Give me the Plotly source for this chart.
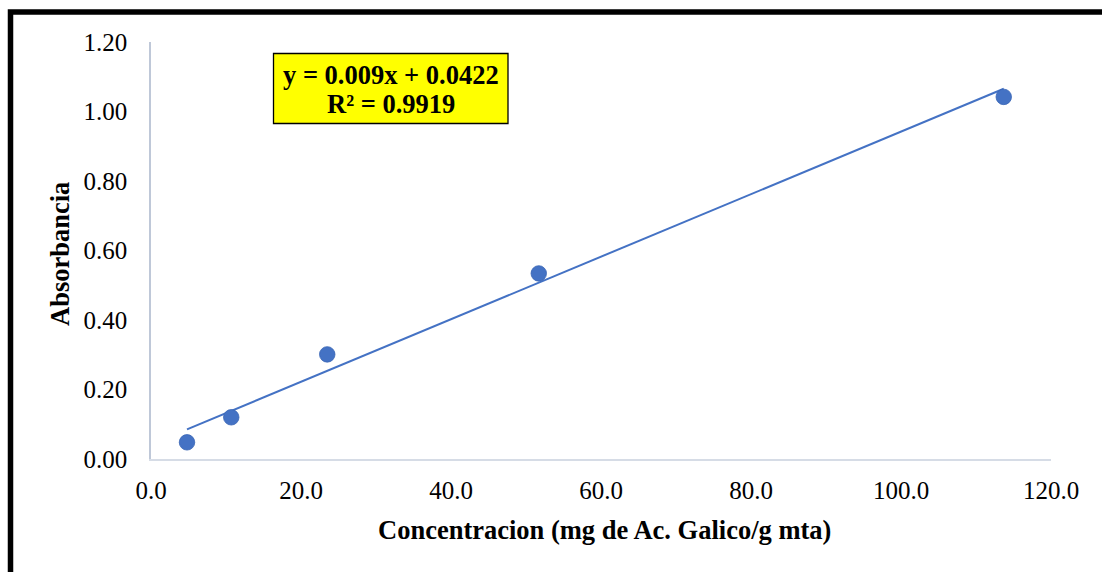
import plotly.graph_objects as go

# Data
conc = [4.8, 10.7, 23.5, 51.7, 113.7]
absorb = [0.048, 0.12, 0.301, 0.534, 1.042]
slope = 0.009
intercept = 0.0422
eq_text = "y = 0.009x + 0.0422"
r2_text = "R² = 0.9919"
x_title = "Concentracion (mg de Ac. Galico/g mta)"
y_title = "Absorbancia"
x_ticks = [0, 20, 40, 60, 80, 100, 120]
y_ticks = [0, 0.2, 0.4, 0.6, 0.8, 1.0, 1.2]

W, H = 1102, 572
L, R, T, B = 151, 51, 42, 113
pw, ph = W - L - R, H - T - B


def px(xp):
    return (xp - L) / pw


def py(yp):
    return (H - B - yp) / ph


FONT = "Liberation Serif, Times New Roman, serif"
BLUE = "#4472C4"

tx = [min(conc), max(conc)]
ty = [slope * v + intercept for v in tx]

fig = go.Figure()
fig.add_trace(go.Scatter(x=tx, y=ty, mode="lines",
                         line=dict(color=BLUE, width=2), showlegend=False,
                         hoverinfo="skip"))
fig.add_trace(go.Scatter(x=conc, y=absorb, mode="markers",
                         marker=dict(color=BLUE, size=15.5, line=dict(width=0.8, color="#3A66B5")),
                         showlegend=False))

fig.update_layout(
    width=W, height=H,
    margin=dict(l=L, r=R, t=T, b=B, pad=0),
    paper_bgcolor="white", plot_bgcolor="white",
    font=dict(family=FONT, color="black", size=25),
    xaxis=dict(range=[0, 120], tickvals=x_ticks, ticktext=[f"{v:.1f}" for v in x_ticks],
               showgrid=False, zeroline=False, showline=True, linecolor="#D6DCE6",
               linewidth=1.5, ticks="", ticklabelstandoff=8,
               tickfont=dict(family=FONT, size=25, color="black")),
    yaxis=dict(range=[0, 1.2], tickvals=y_ticks, ticktext=[f"{v:.2f}" for v in y_ticks],
               showgrid=False, zeroline=False, showline=True, linecolor="#BFC8D8",
               linewidth=1.5, ticks="", ticklabelstandoff=17,
               tickfont=dict(family=FONT, size=25, color="black")),
)

# outer chart border (thick black, partially outside the view)
fig.add_shape(type="rect", xref="paper", yref="paper",
              x0=px(10.5), x1=px(1130), y0=py(600), y1=py(12),
              line=dict(color="black", width=5.5), fillcolor="rgba(0,0,0,0)", layer="above")

# equation box
fig.add_shape(type="rect", xref="paper", yref="paper",
              x0=px(273.5), x1=px(508), y0=py(123.5), y1=py(53.5),
              line=dict(color="black", width=1.3), fillcolor="#FFFF00", layer="above")

annos = [
    dict(text=f"<b>{eq_text}</b>", x=px(390.8), y=py(75), size=26.5),
    dict(text=f"<b>{r2_text}</b>", x=px(390.8), y=py(104), size=26.5),
    dict(text=f"<b>{x_title}</b>", x=px(604), y=py(530), size=26.5),
]
for a in annos:
    fig.add_annotation(text=a["text"], x=a["x"], y=a["y"], xref="paper", yref="paper",
                       showarrow=False, xanchor="center", yanchor="middle",
                       font=dict(family=FONT, size=a["size"], color="black"))
fig.add_annotation(text=f"<b>{y_title}</b>", x=px(60), y=py(254), xref="paper", yref="paper",
                   showarrow=False, xanchor="center", yanchor="middle", textangle=-90,
                   font=dict(family=FONT, size=26.5, color="black"))

fig.write_html("out.html")
